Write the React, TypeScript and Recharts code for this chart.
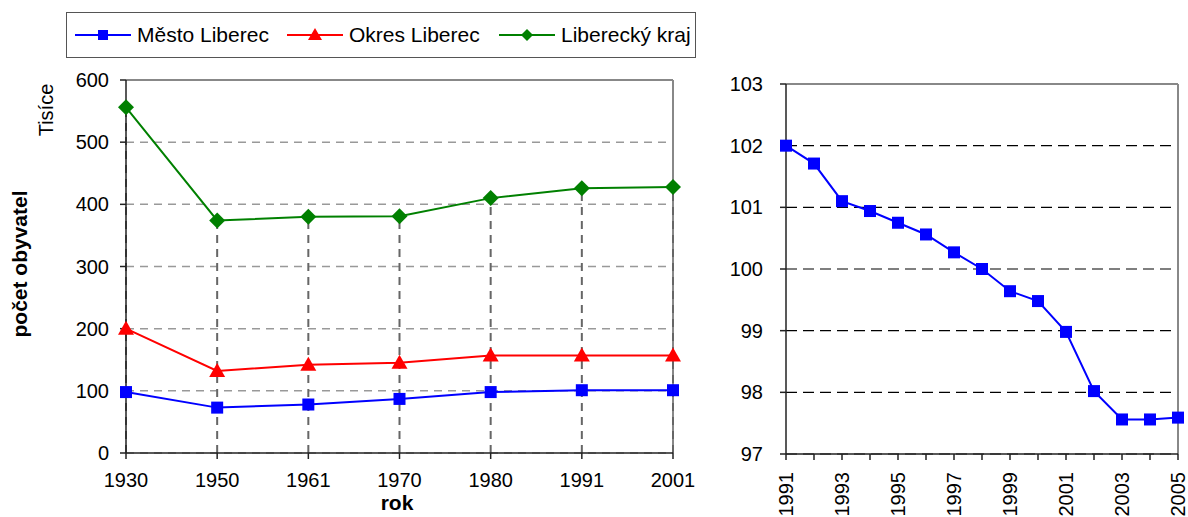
import React from 'react'
import { LineChart, Line, XAxis, YAxis, CartesianGrid, ReferenceLine } from 'recharts'

const censusYears = ['1930', '1950', '1961', '1970', '1980', '1991', '2001']
const mestoLiberec = [98, 73, 78, 87, 98, 101, 101]
const okresLiberec = [200, 132, 142, 145, 157, 157, 157]
const libereckyKraj = [556, 374, 380, 381, 410, 426, 428]
const leftTicks = [0, 100, 200, 300, 400, 500, 600]

const annualYears = ['1991', '1992', '1993', '1994', '1995', '1996', '1997', '1998', '1999', '2000', '2001', '2002', '2003', '2004', '2005']
const mestoAnnual = [102.0, 101.71, 101.1, 100.94, 100.75, 100.56, 100.27, 100.0, 99.64, 99.48, 98.98, 98.02, 97.56, 97.56, 97.59]
const rightTicks = [97, 98, 99, 100, 101, 102, 103]

const BLUE = '#0000ff'
const RED = '#ff0000'
const GREEN = '#008000'
const FONT = '"Liberation Sans", Arial, sans-serif'

const censusData = censusYears.map((rok, i) => ({
  rok,
  mesto: mestoLiberec[i],
  okres: okresLiberec[i],
  kraj: libereckyKraj[i],
}))

const annualData = annualYears.map((rok, i) => ({ rok, mesto: mestoAnnual[i] }))

const SquareDot = (props: any) => {
  const { cx, cy, index } = props
  if (cx == null || cy == null) return <g key={index} />
  return <rect key={index} x={cx - 6} y={cy - 6} width={12} height={12} fill={BLUE} />
}

const TriangleDot = (props: any) => {
  const { cx, cy, index } = props
  if (cx == null || cy == null) return <g key={index} />
  return <polygon key={index} points={`${cx},${cy - 8} ${cx - 8},${cy + 6} ${cx + 8},${cy + 6}`} fill={RED} />
}

const DiamondDot = (props: any) => {
  const { cx, cy, index } = props
  if (cx == null || cy == null) return <g key={index} />
  return <polygon key={index} points={`${cx},${cy - 8} ${cx + 8},${cy} ${cx},${cy + 8} ${cx - 8},${cy}`} fill={GREEN} />
}

const YearTick = (props: any) => {
  const { x, y, payload, index } = props
  if (index % 2 !== 0) return <g />
  const tx = x + 7
  const ty = y + 10
  return (
    <text x={tx} y={ty} transform={`rotate(-90, ${tx}, ${ty})`} textAnchor="end" fontSize={20} fill="#000" fontFamily={FONT}>
      {payload.value}
    </text>
  )
}

const legendItems = [
  { label: 'Město Liberec', color: BLUE, shape: 'square', left: 75 },
  { label: 'Okres Liberec', color: RED, shape: 'triangle', left: 287 },
  { label: 'Liberecký kraj', color: GREEN, shape: 'diamond', left: 499 },
]

function LegendMarker({ color, shape }: { color: string; shape: string }) {
  return (
    <svg width={56} height={16} style={{ display: 'block' }}>
      <line x1={0} y1={8} x2={56} y2={8} stroke={color} strokeWidth={2} />
      {shape === 'square' && <rect x={23} y={3} width={10} height={10} fill={color} />}
      {shape === 'triangle' && <polygon points="28,1 21,13 35,13" fill={color} />}
      {shape === 'diamond' && <polygon points="28,2 34,8 28,14 22,8" fill={color} />}
    </svg>
  )
}

function Legend() {
  return (
    <div
      style={{
        position: 'absolute',
        left: 66,
        top: 12,
        width: 628,
        height: 44,
        border: '1.5px solid #555',
        overflow: 'hidden',
        background: '#fff',
      }}
    >
      {legendItems.map((item) => (
        <div
          key={item.label}
          style={{ position: 'absolute', left: item.left - 67, top: 0, height: 44, display: 'flex', alignItems: 'center', whiteSpace: 'nowrap' }}
        >
          <LegendMarker color={item.color} shape={item.shape} />
          <span style={{ marginLeft: 6, fontSize: 21, fontFamily: FONT, color: '#000' }}>{item.label}</span>
        </div>
      ))}
    </div>
  )
}

function rotatedLabel(text: string, x: number, y: number, bold: boolean) {
  return (
    <div
      style={{
        position: 'absolute',
        left: x,
        top: y,
        transform: 'translate(-50%, -50%) rotate(-90deg)',
        whiteSpace: 'nowrap',
        fontSize: bold ? 21 : 20,
        fontWeight: bold ? 'bold' : 'normal',
        fontFamily: FONT,
        color: '#000',
      }}
    >
      {text}
    </div>
  )
}

function CensusChart() {
  return (
    <LineChart width={700} height={517} data={censusData} margin={{ top: 80, right: 27, left: 0, bottom: 24 }}>
      <CartesianGrid horizontal vertical={false} stroke="#999" strokeWidth={1.5} strokeDasharray="8 6" />
      <ReferenceLine y={600} stroke="#888" strokeWidth={2} />
      <ReferenceLine x="2001" stroke="#888" strokeWidth={2} />
      {censusYears.map((rok, i) => (
        <ReferenceLine
          key={rok}
          segment={[{ x: rok, y: 0 }, { x: rok, y: libereckyKraj[i] }]}
          stroke="#666"
          strokeWidth={2}
          strokeDasharray="8 6"
        />
      ))}
      <XAxis
        dataKey="rok"
        height={40}
        tickSize={6}
        tickMargin={14}
        axisLine={{ stroke: '#222', strokeWidth: 1.5 }}
        tickLine={{ stroke: '#222', strokeWidth: 1.5 }}
        tick={{ fontSize: 20, fill: '#000', fontFamily: FONT }}
      />
      <YAxis
        width={126}
        domain={[0, 600]}
        ticks={leftTicks}
        tickSize={6}
        tickMargin={11}
        axisLine={{ stroke: '#222', strokeWidth: 1.5 }}
        tickLine={{ stroke: '#222', strokeWidth: 1.5 }}
        tick={{ fontSize: 20, fill: '#000', fontFamily: FONT }}
      />
      <Line dataKey="kraj" name="Liberecký kraj" stroke={GREEN} strokeWidth={2} dot={DiamondDot} isAnimationActive={false} />
      <Line dataKey="okres" name="Okres Liberec" stroke={RED} strokeWidth={2} dot={TriangleDot} isAnimationActive={false} />
      <Line dataKey="mesto" name="Město Liberec" stroke={BLUE} strokeWidth={2} dot={SquareDot} isAnimationActive={false} />
    </LineChart>
  )
}

function AnnualChart() {
  return (
    <LineChart width={488} height={517} data={annualData} margin={{ top: 84, right: 10, left: 0, bottom: 3 }}>
      <CartesianGrid horizontal vertical={false} stroke="#000" strokeWidth={1.2} strokeDasharray="11 6" />
      <ReferenceLine y={103} stroke="#888" strokeWidth={2} />
      <ReferenceLine x="2005" stroke="#888" strokeWidth={2} />
      <XAxis
        dataKey="rok"
        height={60}
        interval={0}
        tickSize={6}
        tickMargin={2}
        axisLine={{ stroke: '#222', strokeWidth: 1.5 }}
        tickLine={{ stroke: '#222', strokeWidth: 1.5 }}
        tick={YearTick}
      />
      <YAxis
        width={86}
        domain={[97, 103]}
        ticks={rightTicks}
        tickSize={6}
        tickMargin={17}
        axisLine={{ stroke: '#222', strokeWidth: 1.5 }}
        tickLine={{ stroke: '#222', strokeWidth: 1.5 }}
        tick={{ fontSize: 20, fill: '#000', fontFamily: FONT }}
      />
      <Line dataKey="mesto" name="Město Liberec" stroke={BLUE} strokeWidth={2} dot={SquareDot} isAnimationActive={false} />
    </LineChart>
  )
}

export default function App() {
  return (
    <div style={{ position: 'fixed', left: 0, top: 0, width: 1188, height: 517, background: '#fff', overflow: 'hidden', fontFamily: FONT }}>
      <div style={{ position: 'absolute', left: 0, top: 0 }}>
        <CensusChart />
      </div>
      <div style={{ position: 'absolute', left: 700, top: 0 }}>
        <AnnualChart />
      </div>
      <Legend />
      {rotatedLabel('Tisíce', 46, 110, false)}
      {rotatedLabel('počet obyvatel', 20, 264, true)}
      <div
        style={{ position: 'absolute', left: 397, top: 503, transform: 'translate(-50%, -50%)', fontSize: 21, fontWeight: 'bold', fontFamily: FONT, lineHeight: '24px' }}
      >
        rok
      </div>
    </div>
  )
}
